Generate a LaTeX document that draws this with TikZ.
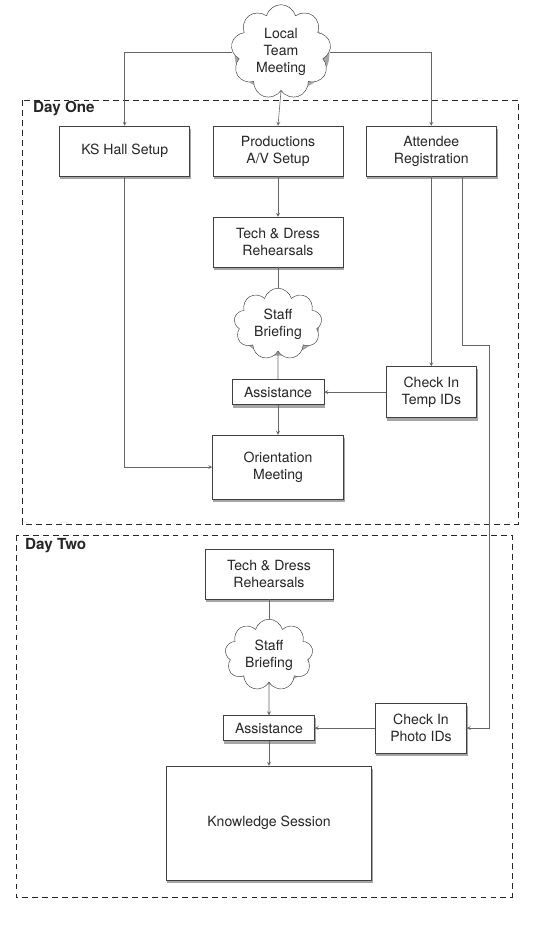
\documentclass[tikz,border=0pt]{standalone}
\usepackage{fontspec}
\setmainfont{TeX Gyre Heros}
\usepackage{tikz}
\usetikzlibrary{shapes.geometric, shapes.symbols, arrows, backgrounds, calc}
\tikzstyle{process} = [rectangle, draw=black!75, fill=white, align=center, text centered, minimum width=3.9cm, minimum height=1.5cm]
\tikzstyle{cloudNode} = [cloud, cloud puffs=9, cloud ignores aspect, draw=black!75, fill=white, align=center]
\tikzstyle{arrow} = [->, >=stealth, draw=black!60, line width=0.5pt]
\tikzstyle{link} = [-, draw=black!60, line width=0.5pt]
\tikzstyle{dayFrame} = [draw=black!85, line width=0.6pt, dash pattern=on 5pt off 3.5pt]
\tikzstyle{dayLabel} = [anchor=west, font=\fontsize{13}{15}\selectfont\bfseries, text=black!85]
\tikzstyle{boxShadow} = [fill=black!35, draw=none]

\begin{document}
\begin{tikzpicture}[x=0.03cm, y=-0.03cm, node distance = 4.6cm, font=\fontsize{12}{14.5}\selectfont, text=black!85]
    \useasboundingbox (0,0) rectangle (532,925);
    % day frames
    \draw [dayFrame] (22,100) rectangle (518,524);
    \draw [dayFrame] (16,535) rectangle (512,897);
    \node (day_1) [dayLabel] at (29,109) {Day One};
    \node (day_2) [dayLabel] at (21,546) {Day Two};

    \node (meeting) [cloudNode, minimum width=3cm, minimum height=2.4cm] at (281,52) {Local\\Team\\Meeting};

    % day one
    \node (prod_av) [process] at (278,151) {Productions\\A/V Setup};
    \node (ks_hall) [process, left of = prod_av] {KS Hall Setup};
    \node (attendee) [process, right of = prod_av] {Attendee\\Registration};
    \node (tech_1) [process, below of = prod_av, node distance = 2.73cm] {Tech \& Dress\\Rehearsals};
    \node (staff_1) [cloudNode, minimum width=2.55cm, minimum height=1.85cm, below of = tech_1, node distance = 2.46cm] {Staff\\Briefing};
    \node (assist_1) [process, minimum width=2.76cm, minimum height=0.75cm, below of = staff_1, node distance = 2.04cm] {Assistance};
    \node (check_1) [process, minimum width=2.7cm, minimum height=1.53cm, right of = assist_1] {Check In\\Temp IDs};
    \node (orient) [process, minimum width=3.93cm, minimum height=1.92cm, below of = assist_1, node distance = 2.25cm] {Orientation\\Meeting};

    % day two
    \node (tech_2) [process, minimum width=3.84cm] at (269,574) {Tech \& Dress\\Rehearsals};
    \node (staff_2) [cloudNode, minimum width=2.5cm, minimum height=1.7cm, below of = tech_2, node distance = 2.43cm] {Staff\\Briefing};
    \node (assist_2) [process, minimum width=2.73cm, minimum height=0.75cm, below of = staff_2, node distance = 2.19cm] {Assistance};
    \node (check_2) [process, minimum width=2.73cm, minimum height=1.5cm, right of = assist_2, node distance = 4.56cm] {Check In\\Photo IDs};
    \node (knowledge) [process, minimum width=6.15cm, minimum height=3.42cm, below of = assist_2, node distance = 2.85cm] {Knowledge Session};

    % shadows
    \begin{scope}[on background layer]
        \foreach \boxName in {ks_hall, prod_av, attendee, tech_1, assist_1, check_1, orient, tech_2, assist_2, check_2, knowledge}
            \path [boxShadow] ($(\boxName.south west)+(1,3)$) rectangle ($(\boxName.north east)+(1,3)$);
        \path [boxShadow] ($(meeting.center)+(1,3)$) ellipse [x radius=1.42cm, y radius=1.12cm];
        \path [boxShadow] ($(staff_1.center)+(1,3)$) ellipse [x radius=1.2cm, y radius=0.86cm];
        \path [boxShadow] ($(staff_2.center)+(1,3)$) ellipse [x radius=1.18cm, y radius=0.79cm];
    \end{scope}

    \coordinate (bend) at (489,345);

    \draw [arrow] (meeting.west) -| (ks_hall.north);
    \draw [arrow] (meeting.south) -- (prod_av.north);
    \draw [arrow] (meeting.east) -| (attendee.north);
    \draw [arrow] (prod_av) -- (tech_1);
    \draw [link] (tech_1) -- (staff_1);
    \draw [link] (staff_1) -- (assist_1);
    \draw [arrow] (assist_1) -- (orient);
    \draw [arrow] (check_1) -- (assist_1);
    \draw [arrow] (check_1.north |- attendee.south) -- (check_1.north);
    \draw [arrow] (ks_hall.south) |- (orient.west);
    \draw [arrow] ([xshift=0.93cm]attendee.south) |- (bend) |- (check_2.east);
    \draw [link] (tech_2) -- (staff_2);
    \draw [arrow] (staff_2) -- (assist_2);
    \draw [arrow] (check_2) -- (assist_2);
    \draw [arrow] (assist_2) -- (knowledge);
\end{tikzpicture}
\end{document}
